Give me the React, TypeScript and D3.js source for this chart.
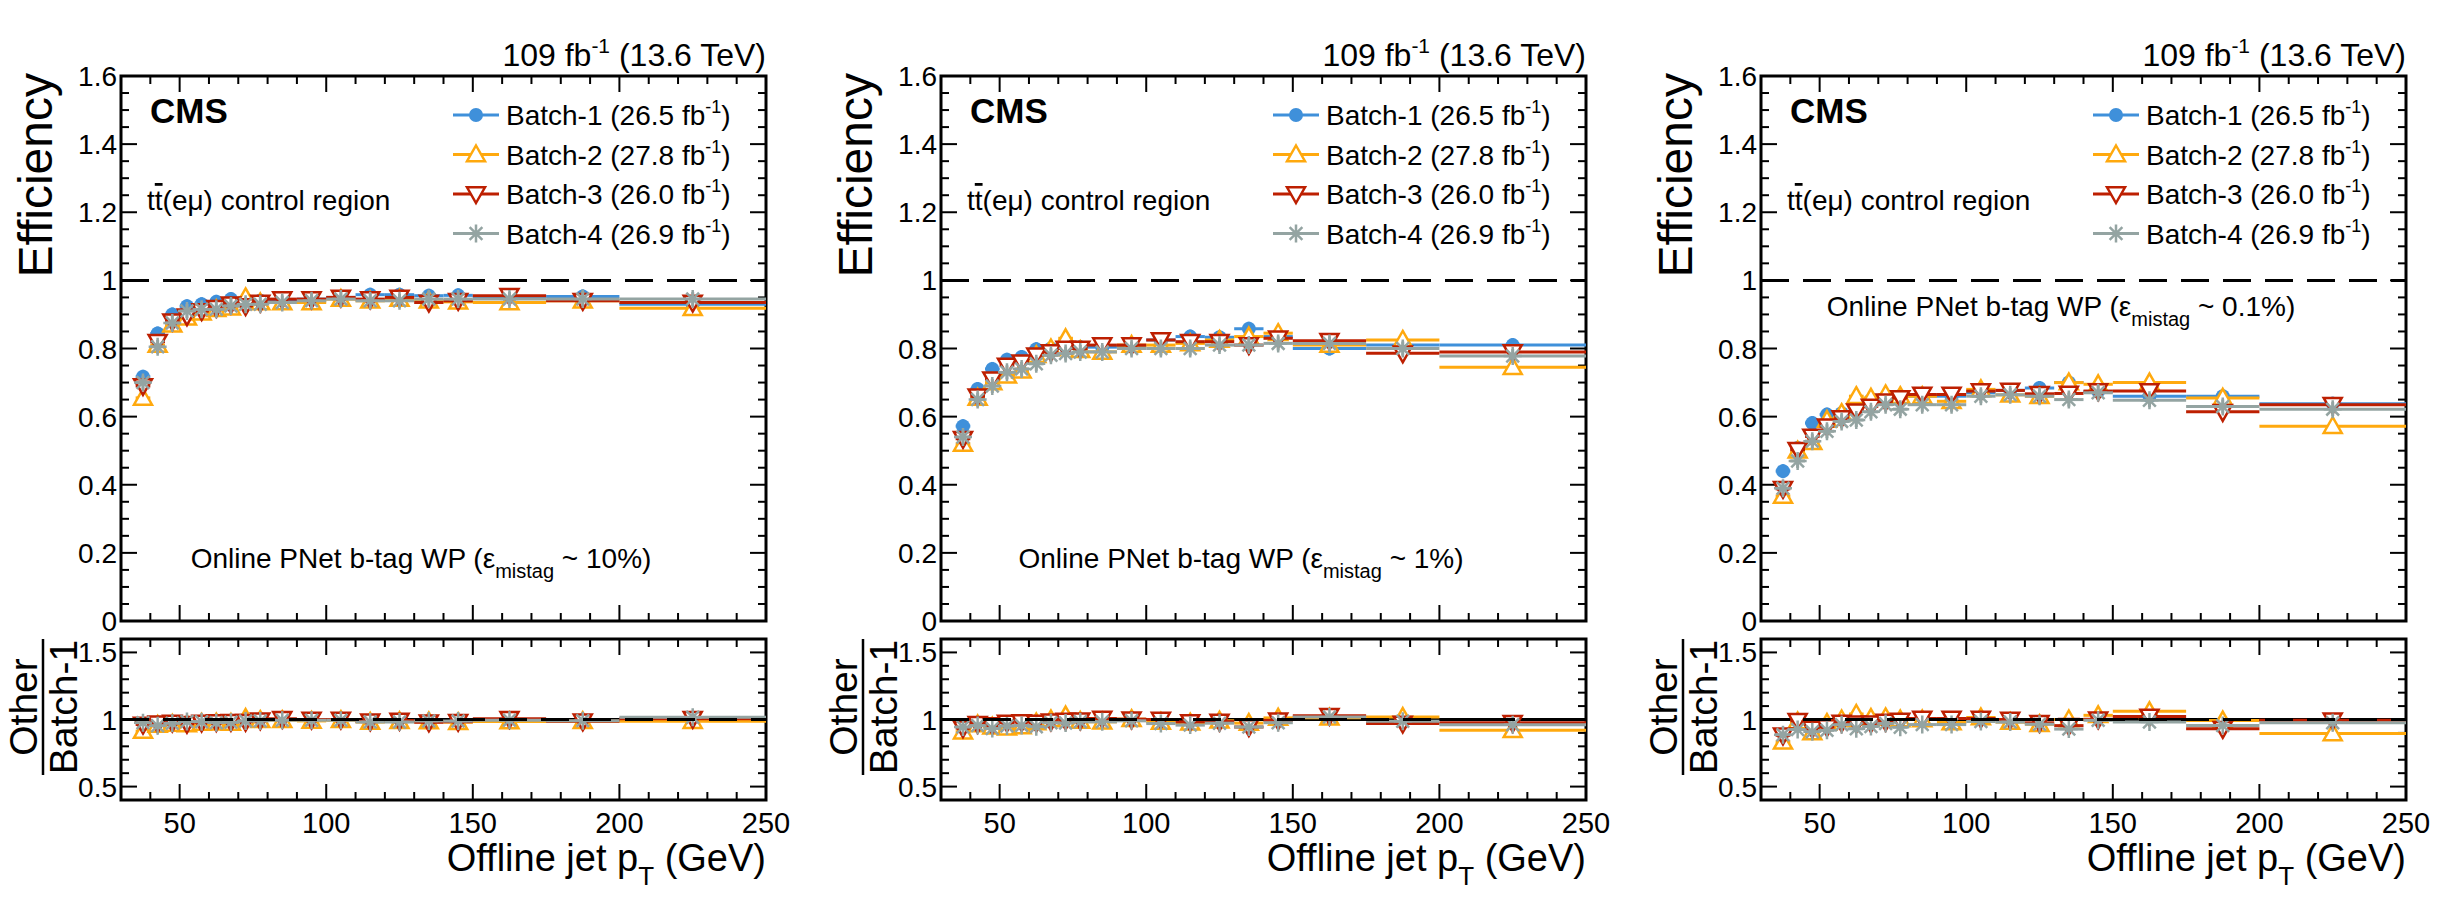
import React, { useEffect, useRef } from 'react';
import * as d3 from 'd3';

// bin edges (GeV)
const binEdges = [35, 40, 45, 50, 55, 60, 65, 70, 75, 80, 90, 100, 110, 120, 130, 140, 150, 175, 200, 250];

const batchNames = ['Batch-1 (26.5 fb', 'Batch-2 (27.8 fb', 'Batch-3 (26.0 fb', 'Batch-4 (26.9 fb'];
const batchColors = ['#3f90da', '#ffa90e', '#bd1f01', '#94a4a2'];
const batchMarkers = ['circle', 'tri-up', 'tri-down', 'star'];

// WP 10%
const wp10b1 = [0.717, 0.844, 0.9, 0.924, 0.93, 0.937, 0.945, 0.94, 0.94, 0.94, 0.945, 0.95, 0.958, 0.958, 0.955, 0.956, 0.95, 0.953, 0.93];
const wp10b2 = [0.655, 0.81, 0.87, 0.89, 0.905, 0.915, 0.92, 0.95, 0.935, 0.935, 0.935, 0.945, 0.94, 0.945, 0.94, 0.937, 0.935, 0.94, 0.918];
const wp10b3 = [0.69, 0.82, 0.88, 0.895, 0.91, 0.92, 0.93, 0.925, 0.935, 0.945, 0.945, 0.95, 0.945, 0.95, 0.935, 0.94, 0.955, 0.94, 0.935];
const wp10b4 = [0.7, 0.805, 0.875, 0.91, 0.915, 0.915, 0.925, 0.93, 0.93, 0.935, 0.94, 0.945, 0.94, 0.94, 0.945, 0.945, 0.945, 0.945, 0.945];

// WP 1%
const wp1b1 = [0.572, 0.681, 0.74, 0.767, 0.775, 0.798, 0.8, 0.806, 0.804, 0.804, 0.808, 0.825, 0.835, 0.833, 0.858, 0.835, 0.8, 0.81, 0.81];
const wp1b2 = [0.52, 0.655, 0.7, 0.72, 0.735, 0.78, 0.8, 0.83, 0.795, 0.79, 0.81, 0.81, 0.815, 0.825, 0.835, 0.845, 0.81, 0.825, 0.745];
const wp1b3 = [0.535, 0.66, 0.71, 0.75, 0.76, 0.78, 0.79, 0.8, 0.8, 0.81, 0.81, 0.825, 0.82, 0.82, 0.81, 0.83, 0.823, 0.786, 0.79];
const wp1b4 = [0.54, 0.65, 0.69, 0.73, 0.74, 0.755, 0.78, 0.785, 0.79, 0.79, 0.8, 0.8, 0.8, 0.81, 0.81, 0.815, 0.815, 0.8, 0.778];

// WP 0.1%
const wp01b1 = [0.44, 0.508, 0.581, 0.606, 0.61, 0.634, 0.648, 0.655, 0.66, 0.66, 0.66, 0.67, 0.677, 0.684, 0.7, 0.674, 0.66, 0.66, 0.638];
const wp01b2 = [0.367, 0.5, 0.525, 0.59, 0.61, 0.66, 0.655, 0.665, 0.66, 0.66, 0.645, 0.68, 0.664, 0.66, 0.7, 0.695, 0.7, 0.655, 0.572];
const wp01b3 = [0.388, 0.503, 0.542, 0.572, 0.596, 0.616, 0.63, 0.645, 0.655, 0.665, 0.665, 0.675, 0.677, 0.667, 0.668, 0.675, 0.675, 0.614, 0.635];
const wp01b4 = [0.39, 0.47, 0.528, 0.557, 0.586, 0.59, 0.614, 0.635, 0.622, 0.635, 0.635, 0.66, 0.664, 0.66, 0.65, 0.67, 0.648, 0.63, 0.622];

const panels = [
  { series: [wp10b1, wp10b2, wp10b3, wp10b4], wp: '10%', wpPos: 'bottom' },
  { series: [wp1b1, wp1b2, wp1b3, wp1b4], wp: '1%', wpPos: 'bottom' },
  { series: [wp01b1, wp01b2, wp01b3, wp01b4], wp: '0.1%', wpPos: 'top' },
];

const FONT = '"Liberation Sans", Arial, sans-serif';

function drawMarker(g: any, kind: string, color: string, x: number, y: number) {
  const s = 9;
  if (kind === 'circle') {
    g.append('circle').attr('cx', x).attr('cy', y).attr('r', 7).attr('fill', color);
  } else if (kind === 'tri-up') {
    g.append('path').attr('d', `M${x},${y - s}L${x + s},${y + s * 0.75}L${x - s},${y + s * 0.75}Z`)
      .attr('fill', 'white').attr('stroke', color).attr('stroke-width', 2.5);
  } else if (kind === 'tri-down') {
    g.append('path').attr('d', `M${x},${y + s}L${x + s},${y - s * 0.75}L${x - s},${y - s * 0.75}Z`)
      .attr('fill', 'white').attr('stroke', color).attr('stroke-width', 2.5);
  } else {
    let d = '';
    for (let k = 0; k < 4; k++) {
      const a = (k * Math.PI) / 4;
      d += `M${x - s * Math.cos(a)},${y - s * Math.sin(a)}L${x + s * Math.cos(a)},${y + s * Math.sin(a)}`;
    }
    g.append('path').attr('d', d).attr('stroke', color).attr('stroke-width', 2.5);
  }
}

function drawPanel(svg: any, p: any, left: number) {
  const W = 645;
  const top = 76, bot = 621, rTop = 639, rBot = 800;
  const g = svg.append('g').attr('font-family', FONT);
  const x = d3.scaleLinear().domain([30, 250]).range([left, left + W]);
  const y = d3.scaleLinear().domain([0, 1.6]).range([bot, top]);
  const yr = d3.scaleLinear().domain([0.4, 1.6]).range([rBot, rTop]);

  // frames
  g.append('rect').attr('x', left).attr('y', top).attr('width', W).attr('height', bot - top)
    .attr('fill', 'none').attr('stroke', 'black').attr('stroke-width', 3);
  g.append('rect').attr('x', left).attr('y', rTop).attr('width', W).attr('height', rBot - rTop)
    .attr('fill', 'none').attr('stroke', 'black').attr('stroke-width', 3);

  // x ticks
  for (let v = 30; v <= 250; v += 10) {
    const len = v % 50 === 0 ? 16 : 8;
    const xx = x(v);
    for (const [yb, yt] of [[bot, top], [rBot, rTop]]) {
      g.append('line').attr('x1', xx).attr('x2', xx).attr('y1', yb).attr('y2', yb - len).attr('stroke', 'black').attr('stroke-width', 2);
      g.append('line').attr('x1', xx).attr('x2', xx).attr('y1', yt).attr('y2', yt + len).attr('stroke', 'black').attr('stroke-width', 2);
    }
    if (v % 50 === 0)
      g.append('text').attr('x', xx).attr('y', 833).attr('text-anchor', 'middle').attr('font-size', 29).text(v);
  }
  // y ticks upper
  for (let i = 0; i <= 32; i++) {
    const v = i * 0.05;
    const major = i % 4 === 0;
    const len = major ? 16 : 8;
    g.append('line').attr('x1', left).attr('x2', left + len).attr('y1', y(v)).attr('y2', y(v)).attr('stroke', 'black').attr('stroke-width', 2);
    g.append('line').attr('x1', left + W).attr('x2', left + W - len).attr('y1', y(v)).attr('y2', y(v)).attr('stroke', 'black').attr('stroke-width', 2);
    if (major)
      g.append('text').attr('x', left - 4).attr('y', y(v) + 10).attr('text-anchor', 'end').attr('font-size', 28)
        .text(i === 0 ? '0' : i === 20 ? '1' : d3.format('.1f')(v));
  }
  // y ticks ratio
  for (let i = 4; i <= 16; i++) {
    const v = i * 0.1;
    const major = i % 5 === 0;
    const len = major ? 16 : 8;
    g.append('line').attr('x1', left).attr('x2', left + len).attr('y1', yr(v)).attr('y2', yr(v)).attr('stroke', 'black').attr('stroke-width', 2);
    g.append('line').attr('x1', left + W).attr('x2', left + W - len).attr('y1', yr(v)).attr('y2', yr(v)).attr('stroke', 'black').attr('stroke-width', 2);
    if (major)
      g.append('text').attr('x', left - 4).attr('y', yr(v) + 10).attr('text-anchor', 'end').attr('font-size', 28)
        .text(i === 10 ? '1' : d3.format('.1f')(v));
  }

  // reference line
  g.append('line').attr('x1', left).attr('x2', left + W).attr('y1', y(1)).attr('y2', y(1))
    .attr('stroke', 'black').attr('stroke-width', 3).attr('stroke-dasharray', '28,14');

  // data upper
  p.series.forEach((vals: number[], si: number) => {
    const c = batchColors[si];
    vals.forEach((v, i) => {
      const x0 = x(binEdges[i]), x1 = x(binEdges[i + 1]), xc = x((binEdges[i] + binEdges[i + 1]) / 2);
      g.append('line').attr('x1', x0).attr('x2', x1).attr('y1', y(v)).attr('y2', y(v)).attr('stroke', c).attr('stroke-width', 3);
      g.append('line').attr('x1', xc).attr('x2', xc).attr('y1', y(v) - 7).attr('y2', y(v) + 7).attr('stroke', c).attr('stroke-width', 3);
      drawMarker(g, batchMarkers[si], c, xc, y(v));
    });
  });

  // ratio
  g.append('line').attr('x1', left).attr('x2', left + W).attr('y1', yr(1)).attr('y2', yr(1)).attr('stroke', 'black').attr('stroke-width', 3);
  const b1 = p.series[0];
  p.series.slice(1).forEach((vals: number[], k: number) => {
    const si = k + 1;
    const c = batchColors[si];
    vals.forEach((v, i) => {
      const r = v / b1[i];
      const x0 = x(binEdges[i]), x1 = x(binEdges[i + 1]), xc = x((binEdges[i] + binEdges[i + 1]) / 2);
      g.append('line').attr('x1', x0).attr('x2', x1).attr('y1', yr(r)).attr('y2', yr(r)).attr('stroke', c).attr('stroke-width', 3);
      drawMarker(g, batchMarkers[si], c, xc, yr(r));
    });
  });
  g.append('line').attr('x1', left).attr('x2', left + W).attr('y1', yr(1)).attr('y2', yr(1))
    .attr('stroke', 'black').attr('stroke-width', 3).attr('stroke-dasharray', '28,14');

  // texts
  const lumi = g.append('text').attr('x', left + W).attr('y', 66).attr('text-anchor', 'end').attr('font-size', 32);
  lumi.append('tspan').text('109 fb');
  lumi.append('tspan').attr('dy', -13).attr('font-size', 21).text('-1');
  lumi.append('tspan').attr('dy', 13).text(' (13.6 TeV)');

  g.append('text').attr('x', left + 29).attr('y', 123).attr('font-size', 35).attr('font-weight', 'bold').text('CMS');
  const cr = g.append('text').attr('x', left + 26).attr('y', 210).attr('font-size', 28);
  cr.append('tspan').text('t');
  cr.append('tspan').style('text-decoration', 'overline').text('t');
  cr.append('tspan').text('(eμ) control region');

  // legend
  batchNames.forEach((n, i) => {
    const ly = 115 + i * 39.5;
    g.append('line').attr('x1', left + 332).attr('x2', left + 378).attr('y1', ly).attr('y2', ly).attr('stroke', batchColors[i]).attr('stroke-width', 3);
    drawMarker(g, batchMarkers[i], batchColors[i], left + 355, ly);
    const t = g.append('text').attr('x', left + 385).attr('y', ly + 10).attr('font-size', 28);
    t.append('tspan').text(n);
    t.append('tspan').attr('dy', -12).attr('font-size', 18).text('-1');
    t.append('tspan').attr('dy', 12).text(')');
  });

  const wpY = p.wpPos === 'top' ? 316 : 568;
  const wt = g.append('text').attr('x', left + 300).attr('y', wpY).attr('text-anchor', 'middle').attr('font-size', 28);
  wt.append('tspan').text('Online PNet b-tag WP (ε');
  wt.append('tspan').attr('dy', 10).attr('font-size', 20).text('mistag');
  wt.append('tspan').attr('dy', -10).text(` ~ ${p.wp})`);

  // axis titles
  const xt = g.append('text').attr('x', left + W).attr('y', 871).attr('text-anchor', 'end').attr('font-size', 38);
  xt.append('tspan').text('Offline jet p');
  xt.append('tspan').attr('dy', 14).attr('font-size', 26).text('T');
  xt.append('tspan').attr('dy', -14).text(' (GeV)');

  g.append('text').attr('transform', `translate(${left - 69},${top - 3}) rotate(-90)`).attr('text-anchor', 'end')
    .attr('font-size', 48).text('Efficiency');
  const cy = 707;
  g.append('text').attr('transform', `translate(${left - 84},${cy}) rotate(-90)`).attr('text-anchor', 'middle')
    .attr('font-size', 39).text('Other');
  g.append('line').attr('x1', left - 78).attr('x2', left - 78).attr('y1', cy - 68).attr('y2', cy + 68).attr('stroke', 'black').attr('stroke-width', 2.5);
  g.append('text').attr('transform', `translate(${left - 44},${cy}) rotate(-90)`).attr('text-anchor', 'middle')
    .attr('font-size', 39).text('Batch-1');
}

const App: React.FC = () => {
  const ref = useRef<SVGSVGElement>(null);
  useEffect(() => {
    const svg = d3.select(ref.current);
    svg.selectAll('*').remove();
    [121, 941, 1761].forEach((left, i) => drawPanel(svg, panels[i], left));
  }, []);
  return (
    <svg ref={ref} width={2450} height={910}
      style={{ position: 'absolute', left: 0, top: 0, background: 'white' }} />
  );
};

export default App;
